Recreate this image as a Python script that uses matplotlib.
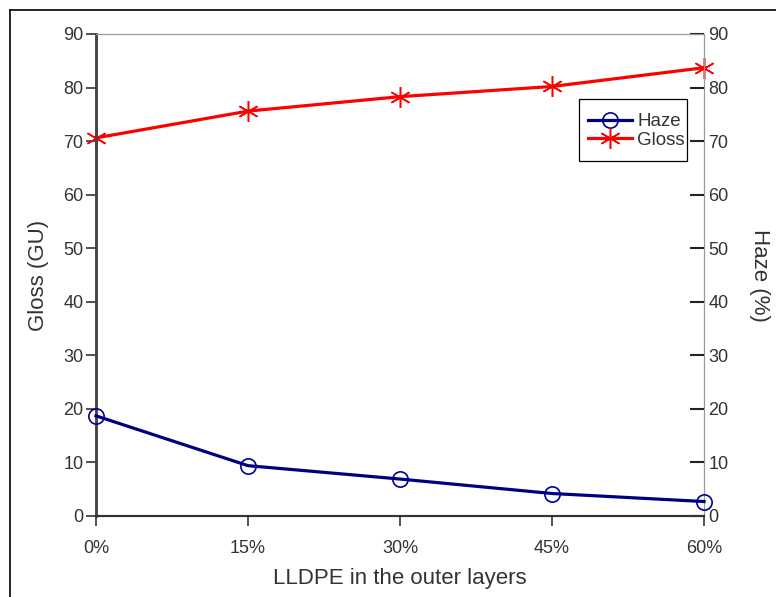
import matplotlib
matplotlib.use("Agg")
import matplotlib.pyplot as plt
from matplotlib.lines import Line2D
from matplotlib.patches import Rectangle

plt.rcParams['font.family'] = ['Liberation Sans', 'DejaVu Sans']

# LLDPE share in the outer layers
lldpe = [0, 15, 30, 45, 60]
xlabels = ['0%', '15%', '30%', '45%', '60%']
gloss = [70.6, 75.6, 78.3, 80.2, 83.7]
haze = [18.7, 9.4, 6.9, 4.2, 2.7]

txt = '#333333'
W, H = 776, 597

fig = plt.figure(figsize=(W/100, H/100), dpi=100)
ax = fig.add_axes([96/W, 1-516/H, 608/W, 482/H])
ax2 = ax.twinx()

lg, = ax.plot(lldpe, gloss, color='#ff0000', lw=2.3, marker=(6, 2, 0),
              ms=15, mew=1.1, label='Gloss', zorder=3, clip_on=False)
lh, = ax2.plot(lldpe, haze, color='#000080', lw=2.3, marker='o', ms=11,
               mfc='none', mec='#000099', mew=1.2, label='Haze', zorder=3,
               clip_on=False)

for a in (ax, ax2):
    a.set_ylim(0, 90)
    a.set_yticks(range(0, 91, 10))
    a.set_xlim(0, 60)
    a.spines['top'].set_color('#999999')
    a.spines['right'].set_color('#999999')
    a.spines['left'].set_color('#444444')
    a.spines['left'].set_linewidth(1.8)
    a.spines['bottom'].set_color('#333333')
    a.spines['bottom'].set_linewidth(1.5)

ax.set_xticks(lldpe)
ax.set_xticklabels(xlabels)
ax.tick_params(axis='x', direction='out', length=7, width=1.2, pad=10,
               labelsize=13, labelcolor=txt, color='#333333')
ax.tick_params(axis='y', direction='out', length=7, width=1.2, pad=2,
               labelsize=13, labelcolor=txt, color='#333333')
ax2.tick_params(axis='y', direction='in', length=10, width=1.5, pad=3,
                labelsize=13, labelcolor=txt, color='#222222')

ax.set_xlabel('LLDPE in the outer layers', fontsize=16, color=txt, labelpad=8)
ax.set_ylabel('Gloss (GU)', fontsize=16, color=txt, labelpad=10)
ax2.set_ylabel('Haze (%)', fontsize=16, color=txt, rotation=270, labelpad=30)

# legend entries without frame, box drawn separately
def to_ax(px, py):
    return (px - 96) / 608, (516 - py) / 482

leg = ax2.legend([lh, lg], ['Haze', 'Gloss'], loc='center',
                 bbox_to_anchor=to_ax(636.5, 131), fontsize=13.5, frameon=False,
                 handlelength=2.35, handletextpad=0.27, borderpad=0,
                 labelspacing=0.08, borderaxespad=0)
for t in leg.get_texts():
    t.set_color(txt)

x0, y0 = to_ax(579, 161)
x1, y1 = to_ax(687, 99)
ax2.add_patch(Rectangle((x0, y0), x1 - x0, y1 - y0, transform=ax2.transAxes,
                        facecolor='white', edgecolor='black', lw=0.9, zorder=4))
leg.set_zorder(5)

# outer frame lines along the top and left edge
fig.add_artist(Line2D([10/W, 1.0], [1-10/H, 1-10/H], color='black', lw=1.2))
fig.add_artist(Line2D([10/W, 10/W], [0, 1-10/H], color='black', lw=1.2))

fig.savefig('out.png', dpi=100)
